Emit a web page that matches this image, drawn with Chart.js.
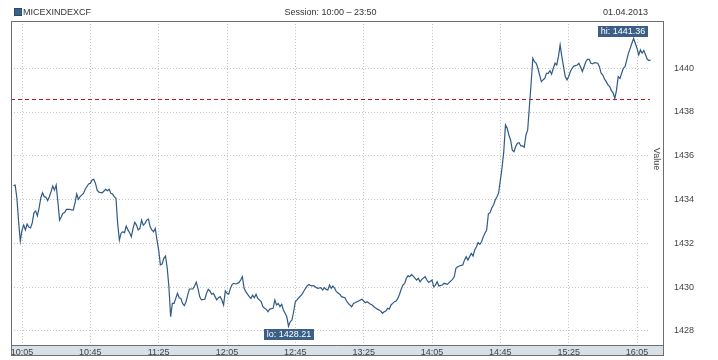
<!DOCTYPE html>
<html>
<head>
<meta charset="utf-8">
<script src="https://cdn.jsdelivr.net/npm/chart.js@4"></script>
<style>
html, body { margin: 0; padding: 0; background: #fff; }
</style>
</head>
<body>
<canvas id="indexChart" width="718" height="360"></canvas>
<script>
// MICEXINDEXCF, 01.04.2013, minutes since 10:00
const minutes = [
  0, 1, 2, 3, 4, 5, 6, 7, 8, 9, 10, 11, 12, 13, 14, 15, 16, 17, 18, 19,
  20, 21, 22, 23, 24, 25, 26, 27, 28, 29, 30, 31, 33, 34, 35, 36, 37, 38, 39, 41,
  42, 44, 45, 46, 47, 48, 49, 50, 52, 54, 55, 56, 57, 58, 59, 60, 61, 62, 63, 64,
  65, 66, 67, 68, 69, 70, 71, 72, 73, 74, 75, 76, 77, 78, 79, 80, 81, 82, 83, 84,
  85, 86, 87, 88, 89, 90, 91, 92, 93, 94, 95, 96, 97, 98, 99, 100, 101, 102, 103, 105,
  106, 107, 108, 109, 110, 112, 113, 114, 115, 116, 117, 118, 119, 120, 121, 122, 123, 124, 125, 126,
  127, 128, 129, 130, 132, 133, 134, 135, 136, 138, 139, 140, 141, 142, 143, 145, 146, 147, 148, 149,
  150, 152, 153, 154, 155, 156, 157, 158, 159, 160, 161, 162, 163, 164, 165, 166, 167, 169, 170, 172,
  173, 174, 176, 177, 178, 180, 181, 182, 183, 184, 185, 186, 187, 188, 189, 191, 192, 194, 195, 196,
  198, 199, 200, 202, 204, 205, 206, 207, 209, 210, 211, 213, 214, 215, 216, 217, 218, 219, 220, 221,
  222, 223, 224, 225, 226, 227, 228, 229, 230, 231, 232, 233, 234, 236, 237, 238, 239, 241, 242, 243,
  245, 246, 247, 248, 249, 251, 252, 254, 255, 257, 258, 259, 260, 261, 263, 264, 265, 266, 267, 268,
  269, 270, 271, 272, 273, 274, 275, 276, 277, 278, 279, 280, 281, 282, 283, 284, 285, 286, 287, 288,
  289, 290, 291, 292, 293, 294, 295, 296, 297, 298, 299, 300, 301, 302, 303, 304, 305, 306, 307, 308,
  309, 310, 311, 312, 313, 314, 315, 316, 317, 318, 319, 320, 321, 322, 323, 324, 325, 326, 327, 328,
  330, 331, 332, 333, 334, 335, 336, 337, 338, 339, 340, 342, 343, 344, 345, 346, 347, 348, 349, 350,
  351, 352, 353, 354, 355, 356, 357, 358, 359, 360, 361, 362, 363, 364, 365, 366, 367, 368, 369, 370,
  371, 372, 373
];

const prices = [
  1434.63, 1434.66, 1434.07, 1433.00, 1432.10, 1432.60, 1432.83, 1432.61, 1432.88, 1432.74,
  1432.70, 1432.93, 1433.40, 1433.47, 1433.25, 1433.61, 1434.07, 1434.31, 1434.13, 1434.10,
  1433.95, 1434.13, 1434.36, 1434.62, 1434.43, 1434.66, 1433.90, 1433.06, 1433.21, 1433.37,
  1433.40, 1433.55, 1433.55, 1433.53, 1433.52, 1433.83, 1434.25, 1434.01, 1434.13, 1434.28,
  1434.47, 1434.71, 1434.74, 1434.89, 1434.92, 1434.74, 1434.43, 1434.34, 1434.31, 1434.47,
  1434.40, 1434.47, 1434.28, 1434.25, 1434.13, 1434.06, 1432.90, 1432.15, 1432.46, 1432.53,
  1432.48, 1432.79, 1432.61, 1432.48, 1432.30, 1432.68, 1432.96, 1432.83, 1432.61, 1432.68,
  1433.06, 1432.83, 1432.91, 1433.06, 1433.10, 1432.76, 1432.61, 1432.53, 1432.68, 1432.15,
  1431.69, 1431.01, 1431.05, 1431.31, 1431.42, 1430.87, 1430.00, 1428.64, 1429.25, 1429.25,
  1429.48, 1429.71, 1429.51, 1429.48, 1429.25, 1429.15, 1429.33, 1429.63, 1429.91, 1429.91,
  1430.05, 1430.22, 1429.94, 1429.56, 1429.41, 1429.44, 1429.71, 1429.90, 1429.82, 1429.67,
  1429.71, 1429.56, 1429.41, 1429.51, 1429.56, 1429.41, 1429.18, 1429.82, 1429.71, 1429.67,
  1429.94, 1430.12, 1430.17, 1430.14, 1430.20, 1430.32, 1430.47, 1429.94, 1429.79, 1429.56,
  1429.48, 1429.63, 1429.51, 1429.67, 1429.48, 1429.33, 1429.10, 1429.03, 1428.98, 1428.87,
  1428.99, 1429.03, 1429.41, 1429.18, 1429.25, 1429.10, 1429.21, 1428.95, 1428.80, 1428.64,
  1428.21, 1428.41, 1428.49, 1428.87, 1429.33, 1429.41, 1429.51, 1429.67, 1429.82, 1430.06,
  1430.12, 1430.06, 1430.05, 1429.99, 1429.94, 1429.97, 1429.86, 1429.97, 1429.89, 1429.86,
  1430.09, 1429.94, 1430.05, 1429.94, 1429.79, 1429.67, 1429.56, 1429.51, 1429.36, 1429.25,
  1429.10, 1429.25, 1429.28, 1429.36, 1429.44, 1429.36, 1429.28, 1429.33, 1429.21, 1429.18,
  1429.10, 1428.99, 1428.95, 1428.90, 1428.80, 1428.87, 1428.90, 1429.03, 1428.99, 1429.18,
  1429.25, 1429.33, 1429.36, 1429.48, 1429.67, 1429.91, 1430.09, 1430.17, 1430.40, 1430.52,
  1430.47, 1430.58, 1430.50, 1430.32, 1430.40, 1430.24, 1430.35, 1430.47, 1430.32, 1430.21,
  1430.32, 1430.01, 1430.09, 1430.24, 1430.05, 1430.09, 1430.17, 1430.12, 1430.20, 1430.35,
  1430.47, 1430.86, 1430.93, 1430.96, 1431.01, 1431.23, 1431.39, 1431.23, 1431.39, 1431.54,
  1431.42, 1431.69, 1431.84, 1432.03, 1431.95, 1432.07, 1432.30, 1432.46, 1432.61, 1433.35,
  1433.40, 1433.62, 1433.75, 1433.98, 1434.13, 1434.30, 1434.89, 1435.45, 1436.19, 1437.41,
  1437.26, 1436.95, 1436.72, 1436.26, 1436.19, 1436.42, 1436.57, 1436.60, 1436.45, 1436.45,
  1436.39, 1436.95, 1437.18, 1438.24, 1439.30, 1440.46, 1440.30, 1440.23, 1440.00, 1439.69,
  1439.39, 1439.47, 1439.54, 1439.77, 1439.77, 1439.89, 1439.73, 1440.00, 1440.23, 1440.15,
  1440.53, 1441.07, 1440.53, 1440.07, 1439.62, 1439.47, 1439.62, 1439.85, 1440.00, 1440.10,
  1440.15, 1440.23, 1440.05, 1439.85, 1440.07, 1440.30, 1440.41, 1440.41, 1440.23, 1440.20,
  1440.26, 1440.23, 1440.07, 1439.77, 1439.69, 1439.50, 1439.39, 1439.24, 1439.16, 1438.98,
  1438.88, 1438.62, 1439.00, 1439.62, 1439.54, 1439.77, 1440.00, 1440.07, 1440.38, 1440.69,
  1440.91, 1441.14, 1441.36, 1441.14, 1440.91, 1440.61, 1440.84, 1440.69, 1440.81, 1440.62,
  1440.41, 1440.35, 1440.38
];

const prevClose = 1438.58;
const timeTicks = ["10:05", "10:45", "11:25", "12:05", "12:45", "13:25", "14:05", "14:45", "15:25", "16:05"];
const valueTicks = [1428, 1430, 1432, 1434, 1436, 1438, 1440];

const instrument = "MICEXINDEXCF";
const session = "Session: 10:00 \u2013 23:50";
const tradeDate = "01.04.2013";

const FONT = "'Liberation Sans', Arial, sans-serif";
const LINE = "#2f5a86";
const BOX = "#3b5f86";

function toMinutes(hhmm) {
  const [h, m] = hhmm.split(":").map(Number);
  return (h - 10) * 60 + m;
}
function toClock(min) {
  const h = 10 + Math.floor(min / 60);
  const m = min % 60;
  return h + ":" + (m < 10 ? "0" : "") + m;
}

const points = minutes.map((m, i) => ({ x: m, y: prices[i] }));

const framePlugin = {
  id: "frame",
  beforeDraw(chart) {
    const c = chart.ctx;
    const a = chart.chartArea;
    c.save();
    c.fillStyle = "#fff";
    c.fillRect(0, 0, chart.width, chart.height);
    // time axis strip
    c.fillStyle = "#d7dfe7";
    c.fillRect(a.left, a.bottom, 664 - a.left, 11);
    c.restore();
  },
  beforeDatasetsDraw(chart) {
    const c = chart.ctx;
    const a = chart.chartArea;
    const y = Math.round(chart.scales.y.getPixelForValue(prevClose)) + 0.5;
    c.save();
    c.strokeStyle = "#c81414";
    c.lineWidth = 1;
    c.setLineDash([4, 3]);
    c.beginPath();
    c.moveTo(a.left, y);
    c.lineTo(a.right, y);
    c.stroke();
    c.restore();
  },
  afterDatasetsDraw(chart) {
    const c = chart.ctx;
    const a = chart.chartArea;
    const xs = chart.scales.x, ys = chart.scales.y;
    let hi = 0, lo = 0;
    prices.forEach((p, i) => {
      if (p > prices[hi]) hi = i;
      if (p < prices[lo]) lo = i;
    });
    c.save();
    c.font = "9px " + FONT;
    c.textBaseline = "middle";
    c.textAlign = "center";
    const tag = (text, i, above) => {
      const px = xs.getPixelForValue(minutes[i]);
      const py = ys.getPixelForValue(prices[i]);
      const w = Math.round(c.measureText(text).width + 5);
      let left = Math.round(px - w / 2);
      left = Math.max(a.left + 1, Math.min(left, a.right - 2 - w));
      const top = above ? Math.round(py - 13) : Math.round(py + 2.5);
      c.fillStyle = BOX;
      c.fillRect(left, top, w, 11);
      c.fillStyle = "#fff";
      c.fillText(text, left + w / 2, top + 6);
    };
    tag("hi: " + prices[hi].toFixed(2), hi, true);
    tag("lo: " + prices[lo].toFixed(2), lo, false);
    c.restore();
  },
  afterDraw(chart) {
    const c = chart.ctx;
    const a = chart.chartArea;
    c.save();
    // frame
    c.strokeStyle = "#6e6e6e";
    c.lineWidth = 1;
    c.strokeRect(a.left + 0.5, a.top + 0.5, 664 - a.left - 1, 356 - a.top - 1);
    c.beginPath();
    c.moveTo(a.left, a.bottom + 0.5);
    c.lineTo(664, a.bottom + 0.5);
    c.stroke();

    // header
    c.font = "9px " + FONT;
    c.textBaseline = "middle";
    c.fillStyle = "#3a6189";
    c.fillRect(14, 8, 8, 8);
    c.strokeStyle = "#2a4a6e";
    c.strokeRect(14.5, 8.5, 7, 7);
    c.fillStyle = "#333";
    c.textAlign = "left";
    c.fillText(instrument, 23, 12.5);
    c.textAlign = "center";
    c.fillText(session, (a.left + a.right) / 2, 12.5);
    c.textAlign = "right";
    c.fillText(tradeDate, a.right - 2, 12.5);

    // axis name
    c.translate(656, 159);
    c.rotate(Math.PI / 2);
    c.textAlign = "center";
    c.fillStyle = "#444";
    c.fillText("Value", 0, 0);
    c.restore();
  }
};

new Chart(document.getElementById("indexChart"), {
  type: "line",
  data: {
    datasets: [
      {
        label: instrument,
        data: points,
        borderColor: LINE,
        borderWidth: 1.2,
        pointRadius: 0,
        fill: false,
        tension: 0,
        clip: 3,
      },
    ],
  },
  options: {
    responsive: false,
    animation: false,
    events: [],
    layout: { autoPadding: false, padding: { left: 11, top: 21, right: 0, bottom: 4 } },
    plugins: {
      legend: { display: false },
      tooltip: { enabled: false },
    },
    scales: {
      x: {
        type: "linear",
        min: -1.44,
        max: 372.6,
        afterFit: (scale) => { scale.height = 11; },
        afterBuildTicks: (scale) => {
          scale.ticks = timeTicks.map((t) => ({ value: toMinutes(t) }));
        },
        grid: { color: "#c4c4c4", drawTicks: false },
        border: { display: false, dash: [1, 2] },
        ticks: {
          autoSkip: false,
          maxRotation: 0,
          padding: 2,
          color: "#444",
          font: { family: FONT, size: 9 },
          callback: (v) => toClock(v),
        },
      },
      y: {
        position: "right",
        min: 1427.35,
        max: 1442.16,
        afterFit: (scale) => { scale.width = 68; },
        afterBuildTicks: (scale) => {
          scale.ticks = valueTicks.map((v) => ({ value: v }));
        },
        // invisible tick marks push the labels out past the frame
        grid: { color: "#c4c4c4", drawTicks: true, tickLength: 24, tickColor: "rgba(0,0,0,0)" },
        border: { display: false, dash: [1, 2] },
        ticks: {
          padding: 0,
          color: "#444",
          font: { family: FONT, size: 9 },
          callback: (v) => String(v),
        },
      },
    },
  },
  plugins: [framePlugin],
});
</script>
</body>
</html>
